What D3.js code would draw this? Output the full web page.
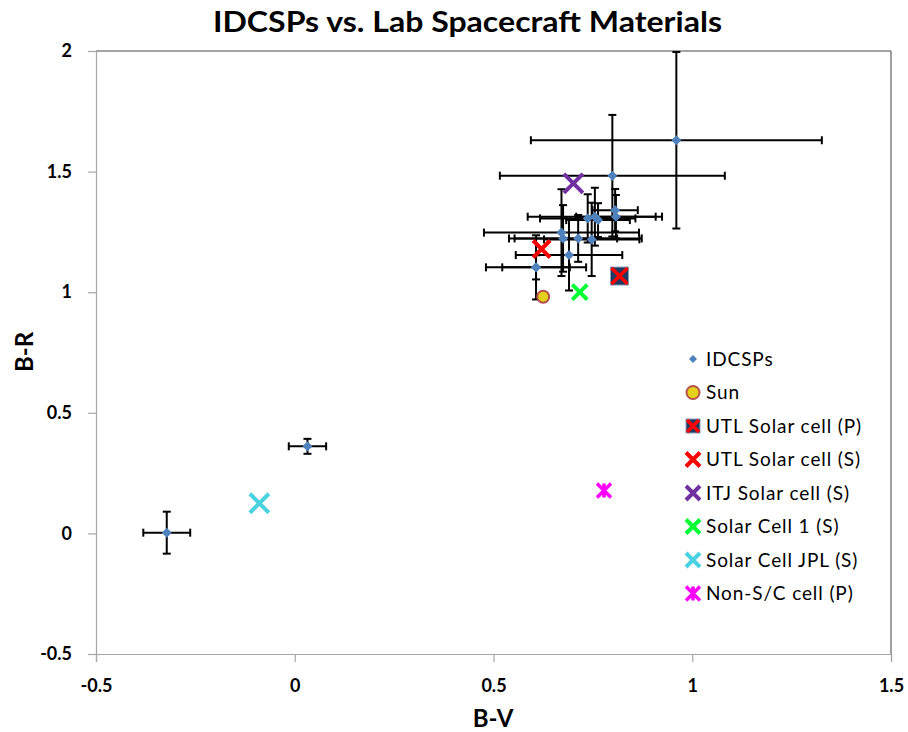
<!DOCTYPE html>
<html>
<head>
<meta charset="utf-8">
<script src="https://cdn.jsdelivr.net/npm/d3@7"></script>
<style>
  html, body { margin: 0; padding: 0; background: #fff; }
  svg { display: block; }
  text { font-family: Lato, "Liberation Sans", Arial, sans-serif; }
</style>
</head>
<body>
<svg id="chart" width="908" height="732"></svg>
<script>
// ---- data ----
const title = "IDCSPs vs. Lab Spacecraft Materials";
const xLabel = "B-V";
const yLabel = "B-R";
const xTicks = [-0.5, 0, 0.5, 1, 1.5];
const yTicks = [-0.5, 0, 0.5, 1, 1.5, 2];

// IDCSPs with error bars
const idcspBV    = [0.960, 0.799, 0.806, 0.808, 0.737, 0.755, 0.763, 0.671, 0.675, 0.713, 0.747, 0.690, 0.607, 0.607, 0.032, -0.322];
const idcspBR    = [1.630, 1.483, 1.340, 1.313, 1.306, 1.313, 1.299, 1.247, 1.223, 1.223, 1.219, 1.154, 1.103, 1.103, 0.361, 0.003];
const idcspBVerr = [0.366, 0.283, 0.057, 0.100, 0.120, 0.169, 0.080, 0.195, 0.136, 0.160, 0.120, 0.134, 0.126, 0.085, 0.047, 0.059];
const idcspBRerr = [0.366, 0.252, 0.088, 0.090, 0.100, 0.120, 0.070, 0.180, 0.138, 0.097, 0.152, 0.147, 0.133, 0.050, 0.031, 0.087];

// Lab materials
const labNames = ["Sun", "UTL Solar cell (P)", "UTL Solar cell (S)", "ITJ Solar cell (S)", "Solar Cell 1 (S)", "Solar Cell JPL (S)", "Non-S/C cell (P)"];
const labBV    = [0.625, 0.817, 0.621, 0.701, 0.717, -0.089, 0.778];
const labBR    = [0.981, 1.067, 1.179, 1.451, 1.000, 0.125, 0.178];
const labMarker = ["circle", "squareX", "x", "x", "x", "x", "star"];
const labColor  = ["#e5d11b", "#ff0000", "#ff0000", "#7030a0", "#00ff33", "#4bd2e1", "#ff00ff"];
const labSize   = [14, 18, 17, 19, 15, 19, 14];

// ---- layout ----
const svg = d3.select("#chart");
const L = 96, R = 891, T = 51, B = 654;
const x = d3.scaleLinear().domain([-0.5, 1.5]).range([L, R]);
const y = d3.scaleLinear().domain([-0.5, 2]).range([B, T]);

// title
svg.append("text").attr("x", 467.5).attr("y", 32).attr("text-anchor", "middle")
  .attr("font-size", 28).attr("font-weight", "bold")
  .attr("textLength", 509).attr("lengthAdjust", "spacingAndGlyphs").text(title);

// plot borders
svg.append("line").attr("x1", L).attr("x2", R).attr("y1", T).attr("y2", T).attr("stroke", "#868686").attr("stroke-width", 1.5);
svg.append("line").attr("x1", R).attr("x2", R).attr("y1", T).attr("y2", B).attr("stroke", "#404040").attr("stroke-width", 1);

// axes
const xAxis = d3.axisBottom(x).tickValues(xTicks).tickSize(8).tickPadding(17).tickFormat(d => String(d));
const yAxis = d3.axisLeft(y).tickValues(yTicks).tickSize(8).tickPadding(16).tickFormat(d => String(d));
const gx = svg.append("g").attr("transform", `translate(0,${B})`).call(xAxis);
const gy = svg.append("g").attr("transform", `translate(${L},0)`).call(yAxis);
[gx, gy].forEach(g => {
  g.select(".domain").attr("stroke", "#a6a6a6").attr("stroke-width", 1.2);
  g.selectAll(".tick line").attr("stroke", "#a6a6a6").attr("stroke-width", 1.2);
  g.selectAll(".tick text").attr("font-size", 18).attr("font-weight", "bold").attr("fill", "#000")
    .attr("font-family", "Lato, 'Liberation Sans', Arial, sans-serif");
});

svg.append("text").attr("x", 493).attr("y", 727).attr("text-anchor", "middle")
  .attr("font-size", 24).attr("font-weight", "bold").text(xLabel);
svg.append("text").attr("transform", `translate(33,352) rotate(-90)`).attr("text-anchor", "middle")
  .attr("font-size", 24).attr("font-weight", "bold").text(yLabel);

// IDCSP error bars
const idx = d3.range(idcspBV.length);
const eb = svg.append("g").attr("stroke", "#000").attr("stroke-width", 2);
const cap = 4;
idx.forEach(i => {
  const cx = x(idcspBV[i]), cy = y(idcspBR[i]);
  const x1 = x(idcspBV[i] - idcspBVerr[i]), x2 = x(idcspBV[i] + idcspBVerr[i]);
  const y1 = y(idcspBR[i] + idcspBRerr[i]), y2 = y(idcspBR[i] - idcspBRerr[i]);
  eb.append("line").attr("x1", x1).attr("x2", x2).attr("y1", cy).attr("y2", cy);
  eb.append("line").attr("x1", x1).attr("x2", x1).attr("y1", cy - cap).attr("y2", cy + cap);
  eb.append("line").attr("x1", x2).attr("x2", x2).attr("y1", cy - cap).attr("y2", cy + cap);
  eb.append("line").attr("x1", cx).attr("x2", cx).attr("y1", y1).attr("y2", y2);
  eb.append("line").attr("x1", cx - cap).attr("x2", cx + cap).attr("y1", y1).attr("y2", y1);
  eb.append("line").attr("x1", cx - cap).attr("x2", cx + cap).attr("y1", y2).attr("y2", y2);
});

function diamond(g, cx, cy, s) {
  g.append("path").attr("d", `M${cx},${cy - s}L${cx + s},${cy}L${cx},${cy + s}L${cx - s},${cy}Z`)
    .attr("fill", "#4f81bd");
}
function drawMarker(g, type, cx, cy, size, color) {
  const h = size / 2;
  if (type === "circle") {
    g.append("circle").attr("cx", cx).attr("cy", cy).attr("r", h - 1)
      .attr("fill", color).attr("stroke", "#b5524c").attr("stroke-width", 2);
  } else if (type === "squareX") {
    g.append("rect").attr("x", cx - h).attr("y", cy - h).attr("width", size).attr("height", size)
      .attr("fill", "#1f3a60").attr("stroke", "#8aa0c0").attr("stroke-width", 1);
    const k = h - 1;
    g.append("path").attr("d", `M${cx - k},${cy - k}L${cx + k},${cy + k}M${cx + k},${cy - k}L${cx - k},${cy + k}`)
      .attr("stroke", color).attr("stroke-width", 3.5).attr("fill", "none");
  } else if (type === "x") {
    g.append("path").attr("d", `M${cx - h},${cy - h}L${cx + h},${cy + h}M${cx + h},${cy - h}L${cx - h},${cy + h}`)
      .attr("stroke", color).attr("stroke-width", 4).attr("fill", "none");
  } else if (type === "star") {
    g.append("path").attr("d", `M${cx - h},${cy - h}L${cx + h},${cy + h}M${cx + h},${cy - h}L${cx - h},${cy + h}M${cx},${cy - h}L${cx},${cy + h}`)
      .attr("stroke", color).attr("stroke-width", 3.5).attr("fill", "none");
  }
}

// IDCSP markers
const pm = svg.append("g");
idx.forEach(i => diamond(pm, x(idcspBV[i]), y(idcspBR[i]), 5));

// lab markers
const lm = svg.append("g");
labNames.forEach((n, i) => drawMarker(lm, labMarker[i], x(labBV[i]), y(labBR[i]), labSize[i], labColor[i]));

// legend
const lg = svg.append("g");
const legY0 = 359, legDy = 33.5, legMx = 693, legTx = 706;
diamond(lg, legMx, legY0, 4);
lg.append("text").attr("x", legTx).attr("y", legY0 + 6.5).attr("font-size", 19).attr("letter-spacing", 0.9).text("IDCSPs");
labNames.forEach((n, i) => {
  const cy = legY0 + legDy * (i + 1);
  drawMarker(lg, labMarker[i], legMx, cy, i === 0 ? 15 : 14, labColor[i]);
  lg.append("text").attr("x", legTx).attr("y", cy + 6.5).attr("font-size", 19).attr("letter-spacing", 0.9).text(n);
});
</script>
</body>
</html>
